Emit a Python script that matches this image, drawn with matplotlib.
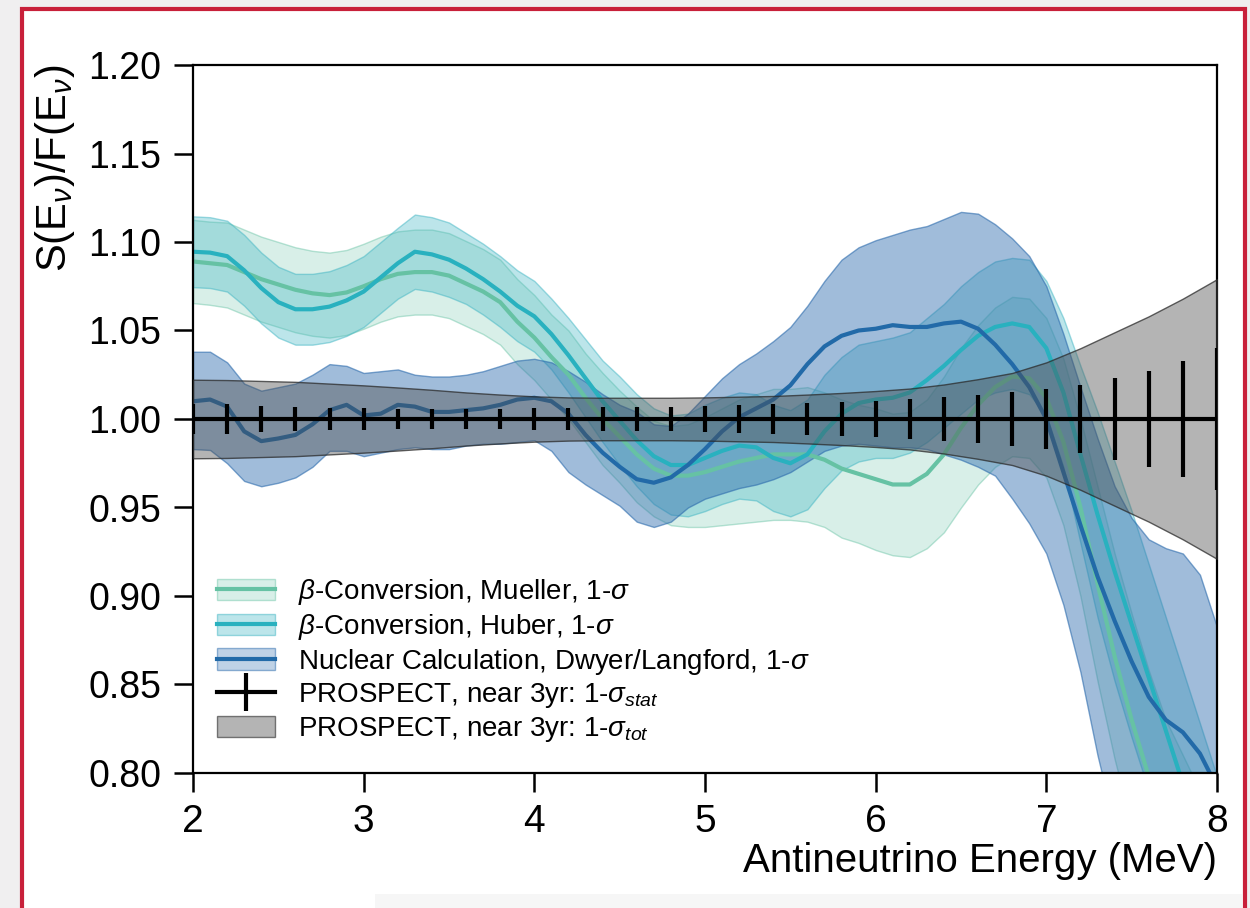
import matplotlib
matplotlib.use("Agg")
import matplotlib.pyplot as plt
import numpy as np
from matplotlib.colors import to_rgba
from matplotlib.lines import Line2D
from matplotlib.patches import Patch, Rectangle

plt.rcParams["font.family"] = ["Liberation Sans", "DejaVu Sans"]
plt.rcParams["mathtext.fontset"] = "custom"
plt.rcParams["mathtext.rm"] = "Liberation Sans"
plt.rcParams["mathtext.it"] = "Liberation Sans:italic"
plt.rcParams["mathtext.bf"] = "Liberation Sans:bold"

# ---------- model predictions, S(E)/F(E) on a 0.1 MeV grid ----------
energy = [2.0, 2.1, 2.2, 2.3, 2.4, 2.5, 2.6, 2.7, 2.8, 2.9,
          3.0, 3.1, 3.2, 3.3, 3.4, 3.5, 3.6, 3.7, 3.8, 3.9,
          4.0, 4.1, 4.2, 4.3, 4.4, 4.5, 4.6, 4.7, 4.8, 4.9,
          5.0, 5.1, 5.2, 5.3, 5.4, 5.5, 5.6, 5.7, 5.8, 5.9,
          6.0, 6.1, 6.2, 6.3, 6.4, 6.5, 6.6, 6.7, 6.8, 6.9,
          7.0, 7.1, 7.2, 7.3, 7.4, 7.5, 7.6, 7.7, 7.8, 7.9,
          8.0]

mueller = [1.089, 1.088, 1.087, 1.083, 1.079, 1.076, 1.073, 1.071, 1.070, 1.0715,
           1.075, 1.079, 1.082, 1.083, 1.083, 1.081, 1.0765, 1.072, 1.066, 1.055,
           1.046, 1.035, 1.025, 1.012, 1.000, 0.990, 0.980, 0.972, 0.968, 0.968,
           0.970, 0.973, 0.976, 0.978, 0.980, 0.980, 0.980, 0.977, 0.972, 0.969,
           0.966, 0.963, 0.963, 0.969, 0.980, 0.995, 1.008, 1.018, 1.024, 1.023,
           1.012, 0.987, 0.950, 0.907, 0.866, 0.830, 0.798, 0.770, 0.750, 0.730,
           0.710]
mueller_sigma = [0.0235, 0.0235, 0.024, 0.024, 0.024, 0.024, 0.024, 0.024, 0.024, 0.024,
                 0.024, 0.024, 0.024, 0.024, 0.024, 0.024, 0.024, 0.024, 0.024, 0.024,
                 0.024, 0.024, 0.025, 0.025, 0.026, 0.026, 0.027, 0.027, 0.028, 0.029,
                 0.031, 0.033, 0.035, 0.036, 0.037, 0.037, 0.038, 0.038, 0.039, 0.039,
                 0.040, 0.040, 0.041, 0.042, 0.044, 0.045, 0.045, 0.045, 0.045, 0.045,
                 0.045, 0.047, 0.050, 0.055, 0.058, 0.060, 0.060, 0.060, 0.060, 0.060,
                 0.060]

huber = [1.0945, 1.094, 1.092, 1.084, 1.074, 1.066, 1.062, 1.062, 1.0635, 1.067,
         1.072, 1.080, 1.088, 1.0945, 1.093, 1.090, 1.085, 1.079, 1.072, 1.064,
         1.058, 1.048, 1.036, 1.023, 1.010, 0.999, 0.988, 0.979, 0.974, 0.974,
         0.978, 0.982, 0.985, 0.984, 0.978, 0.975, 0.980, 0.993, 1.003, 1.009,
         1.011, 1.012, 1.015, 1.022, 1.030, 1.039, 1.047, 1.052, 1.054, 1.052,
         1.040, 1.015, 0.980, 0.946, 0.914, 0.884, 0.854, 0.824, 0.794, 0.764,
         0.734]
huber_sigma = [0.020, 0.020, 0.020, 0.020, 0.020, 0.020, 0.020, 0.020, 0.020, 0.020,
               0.020, 0.020, 0.020, 0.021, 0.021, 0.021, 0.020, 0.020, 0.020, 0.020,
               0.020, 0.020, 0.021, 0.022, 0.023, 0.025, 0.026, 0.027, 0.028, 0.029,
               0.030, 0.030, 0.030, 0.030, 0.030, 0.030, 0.031, 0.032, 0.032, 0.033,
               0.033, 0.034, 0.034, 0.035, 0.035, 0.036, 0.036, 0.037, 0.037, 0.038,
               0.038, 0.042, 0.050, 0.058, 0.062, 0.064, 0.064, 0.064, 0.064, 0.064,
               0.064]

dwyer = [1.010, 1.011, 1.007, 0.993, 0.9875, 0.989, 0.991, 0.997, 1.005, 1.008,
         1.002, 1.003, 1.008, 1.007, 1.004, 1.004, 1.005, 1.006, 1.008, 1.011,
         1.012, 1.010, 1.003, 0.991, 0.981, 0.973, 0.966, 0.964, 0.967, 0.974,
         0.983, 0.993, 1.001, 1.006, 1.011, 1.019, 1.031, 1.041, 1.047, 1.050,
         1.051, 1.053, 1.052, 1.052, 1.054, 1.055, 1.051, 1.042, 1.031, 1.018,
         1.000, 0.970, 0.940, 0.911, 0.886, 0.863, 0.843, 0.830, 0.823, 0.811,
         0.792]
dwyer_hi = [1.038, 1.038, 1.032, 1.020, 1.016, 1.018, 1.020, 1.025, 1.031, 1.030,
            1.026, 1.027, 1.028, 1.025, 1.024, 1.024, 1.025, 1.027, 1.030, 1.033,
            1.034, 1.032, 1.027, 1.021, 1.014, 1.008, 1.004, 0.997, 0.996, 1.003,
            1.013, 1.023, 1.031, 1.037, 1.044, 1.052, 1.064, 1.078, 1.090, 1.097,
            1.101, 1.104, 1.107, 1.109, 1.113, 1.117, 1.116, 1.110, 1.102, 1.092,
            1.075, 1.048, 1.018, 0.989, 0.962, 0.944, 0.932, 0.927, 0.924, 0.912,
            0.8825]
dwyer_lo = [0.983, 0.9825, 0.975, 0.965, 0.962, 0.964, 0.967, 0.973, 0.982, 0.982,
            0.979, 0.981, 0.983, 0.984, 0.983, 0.983, 0.985, 0.986, 0.986, 0.987,
            0.988, 0.982, 0.970, 0.963, 0.957, 0.951, 0.942, 0.939, 0.942, 0.950,
            0.955, 0.958, 0.961, 0.963, 0.966, 0.970, 0.976, 0.982, 0.985, 0.986,
            0.985, 0.984, 0.984, 0.983, 0.980, 0.977, 0.973, 0.968, 0.955, 0.941,
            0.924, 0.895, 0.857, 0.810, 0.770, 0.740, 0.720, 0.710, 0.700, 0.700,
            0.700]

# ---------- PROSPECT near-detector 3 yr projection (0.2 MeV bins) ----------
prospect_energy = [2.0, 2.2, 2.4, 2.6, 2.8, 3.0, 3.2, 3.4, 3.6, 3.8,
                   4.0, 4.2, 4.4, 4.6, 4.8, 5.0, 5.2, 5.4, 5.6, 5.8,
                   6.0, 6.2, 6.4, 6.6, 6.8, 7.0, 7.2, 7.4, 7.6, 7.8,
                   8.0]
prospect_ratio = 1.0
prospect_stat = [0.0085, 0.0082, 0.0074, 0.0068, 0.0064, 0.0060, 0.0059, 0.0058, 0.0058, 0.0059,
                 0.0060, 0.0063, 0.0065, 0.0067, 0.0070, 0.0074, 0.0078, 0.0083, 0.0090, 0.0097,
                 0.0103, 0.0112, 0.0122, 0.0133, 0.0150, 0.0168, 0.0190, 0.0230, 0.0270, 0.0330,
                 0.0400]
prospect_tot = [0.0222, 0.0220, 0.0215, 0.0210, 0.0200, 0.0190, 0.0178, 0.0165, 0.0150, 0.0138,
                0.0128, 0.0122, 0.0120, 0.0120, 0.0120, 0.0122, 0.0126, 0.0130, 0.0138, 0.0147,
                0.0158, 0.0172, 0.0195, 0.0225, 0.0260, 0.0320, 0.0400, 0.0490, 0.0580, 0.0680,
                0.0790]

x_ticks = [2, 3, 4, 5, 6, 7, 8]
y_ticks = [0.80, 0.85, 0.90, 0.95, 1.00, 1.05, 1.10, 1.15, 1.20]

MUELLER_C = "#66c2a4"
HUBER_C = "#29b1bf"
HUBER_BAND = "#41b6c4"
DWYER_C = "#226aa8"
DWYER_BAND = "#2c6bad"
LINE_W = 3.0

fig = plt.figure(figsize=(12.5, 9.08), dpi=100, facecolor="#f0eff0")

# slide-style frame behind the plot
fig.add_artist(Rectangle((22 / 1250, -0.05), (1245 - 22) / 1250, 1.05 - 9 / 908,
                         transform=fig.transFigure, facecolor="white",
                         edgecolor="#c8203a", linewidth=3, zorder=-2))
fig.add_artist(Rectangle((375 / 1250, 0.0), (1242 - 375) / 1250, 14 / 908,
                         transform=fig.transFigure, facecolor="#f6f6f6",
                         edgecolor="none", zorder=-1))

ax = fig.add_axes([193 / 1250, 1 - 773 / 908, 1024 / 1250, 708 / 908])
ax.set_facecolor("none")

E = np.array(energy)
m, ms = np.array(mueller), np.array(mueller_sigma)
h, hs = np.array(huber), np.array(huber_sigma)
d, dlo, dhi = np.array(dwyer), np.array(dwyer_lo), np.array(dwyer_hi)

# model bands
ax.fill_between(E, m - ms, m + ms, facecolor=to_rgba(MUELLER_C, 0.25),
                edgecolor=to_rgba(MUELLER_C, 0.45), linewidth=1.0, zorder=1)
ax.fill_between(E, h - hs, h + hs, facecolor=to_rgba(HUBER_BAND, 0.35),
                edgecolor=to_rgba(HUBER_BAND, 0.5), linewidth=1.0, zorder=1.1)
ax.fill_between(E, dlo, dhi, facecolor=to_rgba(DWYER_BAND, 0.45),
                edgecolor=to_rgba(DWYER_BAND, 0.6), linewidth=1.0, zorder=1.2)

# central values
ax.plot(E, m, color=MUELLER_C, lw=LINE_W, zorder=2, solid_joinstyle="round")
ax.plot(E, h, color=HUBER_C, lw=LINE_W, zorder=2.1, solid_joinstyle="round")
ax.plot(E, d, color=DWYER_C, lw=LINE_W, zorder=2.2, solid_joinstyle="round")

# PROSPECT total uncertainty band and stat error bars
pe = np.array(prospect_energy)
tot = np.array(prospect_tot)
ax.fill_between(pe, prospect_ratio - tot, prospect_ratio + tot,
                facecolor=to_rgba("#4d4d4d", 0.42),
                edgecolor=to_rgba("#2b2b2b", 0.75), linewidth=1.0, zorder=3)
ax.axhline(prospect_ratio, color="black", lw=3.0, zorder=5)
ax.errorbar(pe, np.full(len(pe), prospect_ratio), yerr=prospect_stat, fmt="none",
            ecolor="black", elinewidth=3.0, capsize=0, zorder=5)

ax.set_xlim(2, 8)
ax.set_ylim(0.80, 1.20)
ax.set_xticks(x_ticks)
ax.set_yticks(y_ticks)
ax.set_yticklabels([f"{v:.2f}" for v in y_ticks])
ax.tick_params(direction="out", length=14, width=1.8, labelsize=27)
ax.tick_params(axis="y", pad=9)
ax.tick_params(axis="x", labelsize=28, pad=8)
for sp in ax.spines.values():
    sp.set_linewidth(1.6)

ax.set_xlabel("Antineutrino Energy (MeV)", fontsize=29, loc="right", labelpad=2)
ax.set_ylabel(r"S(E$_{\nu}$)/F(E$_{\nu}$)", fontsize=30, loc="top", labelpad=8)

handles = [
    (Patch(facecolor=to_rgba(MUELLER_C, 0.25), edgecolor=to_rgba(MUELLER_C, 0.45), lw=1),
     Line2D([], [], color=MUELLER_C, lw=LINE_W)),
    (Patch(facecolor=to_rgba(HUBER_BAND, 0.35), edgecolor=to_rgba(HUBER_BAND, 0.5), lw=1),
     Line2D([], [], color=HUBER_C, lw=LINE_W)),
    (Patch(facecolor=to_rgba(DWYER_BAND, 0.3), edgecolor=to_rgba(DWYER_BAND, 0.5), lw=1),
     Line2D([], [], color=DWYER_C, lw=LINE_W)),
    Line2D([], [], color="black", lw=3.0, marker="|", markersize=28, markeredgewidth=3.0),
    Patch(facecolor=to_rgba("#4d4d4d", 0.42), edgecolor=to_rgba("#2b2b2b", 0.6), lw=1),
]
labels = [
    r"$\beta$-Conversion, Mueller, 1-$\sigma$",
    r"$\beta$-Conversion, Huber, 1-$\sigma$",
    r"Nuclear Calculation, Dwyer/Langford, 1-$\sigma$",
    r"PROSPECT, near 3yr: 1-$\sigma_{stat}$",
    r"PROSPECT, near 3yr: 1-$\sigma_{tot}$",
]
ax.legend(handles, labels, loc="upper left", bbox_to_anchor=(0.0234, 0.2764),
          frameon=False, fontsize=20, handlelength=2.1, handleheight=0.8,
          handletextpad=0.8, labelspacing=0.17, borderpad=0, borderaxespad=0)

fig.savefig("out.png", dpi=100, facecolor=fig.get_facecolor())
